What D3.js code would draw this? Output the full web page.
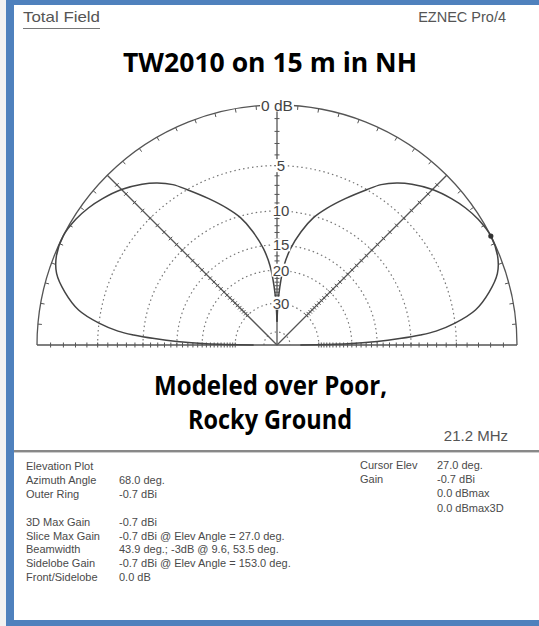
<!DOCTYPE html>
<html><head><meta charset="utf-8">
<script src="https://cdn.jsdelivr.net/npm/d3@7"></script>
<style>html,body{margin:0;padding:0;background:#fff;}svg{display:block;}</style>
</head><body>
<script>
// ---- data ----
const elevAngles = [0,1,2,3,4,5,7,10,14,18,22,27,32,36,40,45,50,53.5,57,60,65,70,74,78,82,85,88,90];
const gainDown   = [40,21,15,11.5,8.8,7,5,3,1.6,0.6,0.15,0,0.2,0.5,0.9,1.5,2.3,3,3.9,5,6.8,8.6,10.2,12.5,15.5,19,27,40];
const ringDb = [5,10,15,20,30,50];
const ringLabels = ["5","10","15","20","30",""];
const radialAngles = [0,45,90,135,180];
const cursorElev = 27;
const leftInfoLabels = ["Elevation Plot","Azimuth Angle","Outer Ring","","3D Max Gain","Slice Max Gain","Beamwidth","Sidelobe Gain","Front/Sidelobe"];
const leftInfoValues = ["","68.0 deg.","-0.7 dBi","","-0.7 dBi","-0.7 dBi @ Elev Angle = 27.0 deg.","43.9 deg.; -3dB @ 9.6, 53.5 deg.","-0.7 dBi @ Elev Angle = 153.0 deg.","0.0 dB"];
const rightInfoLabels = ["Cursor Elev","Gain","",""];
const rightInfoValues = ["27.0 deg.","-0.7 dBi","0.0 dBmax","0.0 dBmax3D"];

const W=539,H=626;
const svg=d3.select("body").append("svg").attr("width",W).attr("height",H);
svg.append("rect").attr("width",W).attr("height",H).attr("fill","#fff");
// frame
svg.append("rect").attr("x",0).attr("y",0).attr("width",6).attr("height",H).attr("fill","#f2f2f2");
const blue="#4f81bd";
svg.append("rect").attr("x",6).attr("y",0).attr("width",8).attr("height",H).attr("fill",blue);
svg.append("rect").attr("x",6).attr("y",0).attr("width",W-6).attr("height",5).attr("fill",blue);
svg.append("rect").attr("x",6).attr("y",620).attr("width",W-6).attr("height",6).attr("fill",blue);

const sans="Arial, 'Liberation Sans', sans-serif";
const grey="#4a4a4a";
// header
svg.append("text").attr("x",23).attr("y",22).attr("font-family",sans).attr("font-size",14.5).attr("fill","#555")
  .attr("textLength",77).attr("lengthAdjust","spacingAndGlyphs").text("Total Field");
svg.append("line").attr("x1",23).attr("x2",100).attr("y1",28.5).attr("y2",28.5).attr("stroke","#777").attr("stroke-width",1.2);
svg.append("text").attr("x",506).attr("y",22).attr("text-anchor","end").attr("font-family",sans).attr("font-size",14.5).attr("fill","#555").text("EZNEC Pro/4");

const bold="'Open Sans', Lato, sans-serif";
svg.append("text").attr("x",123).attr("y",72).attr("font-family",bold).attr("font-weight",700).attr("font-size",26)
  .attr("textLength",294).attr("lengthAdjust","spacingAndGlyphs").attr("fill","#000").text("TW2010 on 15 m in NH");
svg.append("text").attr("x",154).attr("y",395).attr("font-family",bold).attr("font-weight",700).attr("font-size",26)
  .attr("textLength",233).attr("lengthAdjust","spacingAndGlyphs").attr("fill","#000").text("Modeled over Poor,");
svg.append("text").attr("x",188).attr("y",429).attr("font-family",bold).attr("font-weight",700).attr("font-size",26)
  .attr("textLength",164).attr("lengthAdjust","spacingAndGlyphs").attr("fill","#000").text("Rocky Ground");
svg.append("text").attr("x",508).attr("y",441).attr("text-anchor","end").attr("font-family",sans).attr("font-size",15).attr("fill","#555").text("21.2 MHz");

// ---- polar plot ----
const cx=277, cy=345, R=240;
const g=svg.append("g").attr("transform",`translate(${cx},${cy})`);
const logR=d3.scaleLinear().domain([0,50]).range([Math.log(R),Math.log(R)+25*Math.log(0.89)]);
const rad=d=>Math.exp(logR(d));
const toRad=d3.scaleLinear().domain([0,180]).range([0,Math.PI]);
const pt=(elev,r)=>[r*Math.cos(toRad(elev)),-r*Math.sin(toRad(elev))];
const lineCol="#555";

// dotted rings
ringDb.forEach(d=>{
  const r=rad(d); const p=d3.path(); p.moveTo(-r,0); p.arc(0,0,r,Math.PI,2*Math.PI);
  g.append("path").attr("d",p.toString()).attr("fill","none").attr("stroke","#777").attr("stroke-width",1.2).attr("stroke-dasharray","1.5,3");
});
// outer ring
{const p=d3.path(); p.moveTo(-R,0); p.arc(0,0,R,Math.PI,2*Math.PI);
 g.append("path").attr("d",p.toString()).attr("fill","none").attr("stroke",lineCol).attr("stroke-width",1.3);}
// outer ring ticks every 5 deg
d3.range(5,180,5).forEach(a=>{
  const [x1,y1]=pt(a,R), [x2,y2]=pt(a,R-4);
  g.append("line").attr("x1",x1).attr("y1",y1).attr("x2",x2).attr("y2",y2).attr("stroke",lineCol).attr("stroke-width",1);
});
// radial lines with dB ticks
radialAngles.forEach(a=>{
  const [x1,y1]=pt(a,R);
  g.append("line").attr("x1",0).attr("y1",0).attr("x2",x1).attr("y2",y1).attr("stroke",lineCol).attr("stroke-width",1.3);
  d3.range(1,31).forEach(d=>{
    const r=rad(d); const [x,y]=pt(a,r);
    const px=-Math.sin(toRad(a))*2.5, py=-Math.cos(toRad(a))*2.5;
    g.append("line").attr("x1",x-px).attr("y1",y-py).attr("x2",x+px).attr("y2",y+py).attr("stroke",lineCol).attr("stroke-width",1);
  });
});
// pattern
const lr=d3.lineRadial().curve(d3.curveCatmullRom);
const rightPts=elevAngles.map((e,i)=>[Math.PI/2-toRad(e),rad(gainDown[i])]);
const leftPts=elevAngles.map((e,i)=>[-(Math.PI/2-toRad(e)),rad(gainDown[i])]);
g.append("path").attr("d",lr(rightPts)).attr("fill","none").attr("stroke","#444").attr("stroke-width",1.5);
g.append("path").attr("d",lr(leftPts)).attr("fill","none").attr("stroke","#444").attr("stroke-width",1.5);
// cursor dot
{const [x,y]=pt(cursorElev,R); g.append("circle").attr("cx",x).attr("cy",y).attr("r",2.6).attr("fill","#333");}
// labels
function label(txt,x,y,size){
  const t=g.append("text").attr("x",x).attr("y",y).attr("text-anchor","middle").attr("font-family",sans).attr("font-size",size).attr("fill","#444").text(txt);
  const b=t.node().getBBox();
  g.insert("rect",()=>t.node()).attr("x",b.x-1).attr("y",b.y+2).attr("width",b.width+2).attr("height",b.height-4).attr("fill","#fff");
}
label("0 dB",0,-R+5.5,15.5);
ringDb.forEach((d,i)=>{ if(ringLabels[i]) label(ringLabels[i],4,-rad(d)+5.5,15); });

// ---- info panel ----
svg.append("rect").attr("x",14).attr("y",450).attr("width",W-14).attr("height",2).attr("fill","#888");
svg.append("rect").attr("x",14).attr("y",452).attr("width",W-14).attr("height",1).attr("fill","#ccc");
const info=svg.append("g").attr("font-family",sans).attr("font-size",11).attr("fill",grey);
leftInfoLabels.forEach((t,i)=>{ const y=470+i*13.9;
  info.append("text").attr("x",26).attr("y",y).text(t);
  info.append("text").attr("x",119).attr("y",y).text(leftInfoValues[i]); });
rightInfoLabels.forEach((t,i)=>{ const y=469+i*14.2;
  info.append("text").attr("x",360).attr("y",y).text(t);
  info.append("text").attr("x",437).attr("y",y).text(rightInfoValues[i]); });
</script>
</body></html>
